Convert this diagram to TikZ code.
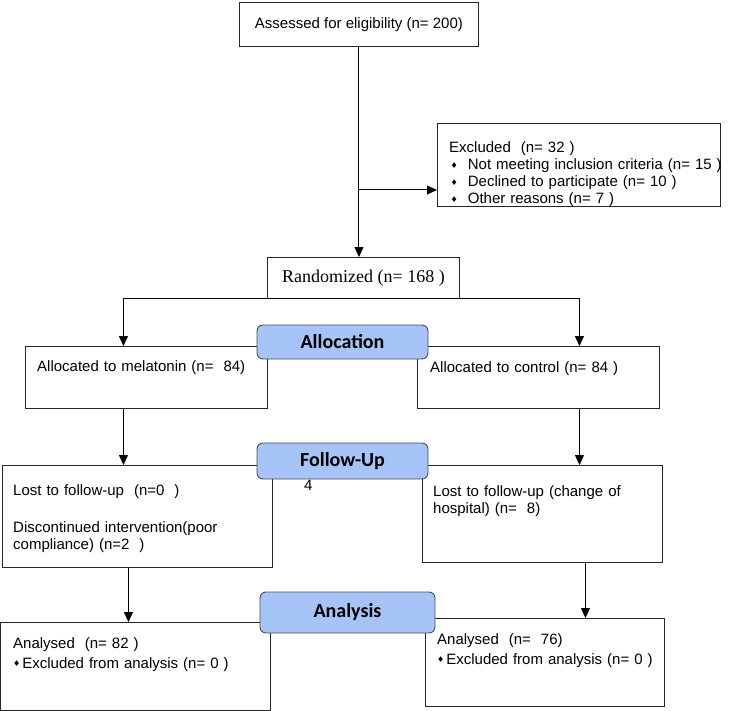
\documentclass[tikz,border=0pt]{standalone}
\usepackage{fontspec}
\setmainfont{Liberation Sans}
\newfontfamily\randfont{Liberation Serif}
\newfontfamily\stagefont{Carlito}
\newfontfamily\symfont{DejaVu Sans}
\usetikzlibrary{arrows.meta}
\definecolor{stageblue}{RGB}{166,196,248}
\newcommand{\dmd}{\raisebox{1.5pt}{\fontsize{8}{8}\selectfont\symfont ♦}}

\begin{document}
\begin{tikzpicture}[x=1pt,y=-1pt,
    box/.style={draw=black!85, line width=0.9pt, inner sep=0pt, anchor=north west,
        font=\fontsize{15}{17}\selectfont},
    stage/.style={draw=black!70, fill=stageblue, rounded corners=6pt, line width=0.9pt,
        minimum width=171pt, minimum height=34pt,
        font=\stagefont\bfseries\fontsize{20}{24}\selectfont},
    txt/.style={anchor=base west, inner sep=0pt, align=left, text width=280pt,
        font=\fontsize{15}{17}\selectfont},
    arr/.style={line width=1pt, -{Triangle[length=10pt,width=9pt]}}]
    \useasboundingbox (0,0) rectangle (730,711);

    % boxes
    \node[box, minimum width=239pt, minimum height=44pt] (assess) at (239,2)
        {Assessed for eligibility (n= 200)};
    \node[box, minimum width=283pt, minimum height=83pt] (excl) at (437,123) {};
    \node[box, minimum width=192pt, minimum height=41pt,
        font=\randfont\fontsize{18}{21}\selectfont] (rand) at (267,257)
        {Randomized (n= 168 )};
    \node[box, minimum width=242pt, minimum height=62pt] (alloc1) at (25,346) {};
    \node[box, minimum width=242pt, minimum height=62pt] (alloc2) at (417,346) {};
    \node[box, minimum width=270pt, minimum height=102pt] (lost1) at (2,465) {};
    \node[box, minimum width=240pt, minimum height=97pt] (lost2) at (422,465) {};
    \node[box, minimum width=270pt, minimum height=88pt] (anal1) at (0,622) {};
    \node[box, minimum width=239pt, minimum height=88pt] (anal2) at (425,618) {};

    % texts
    \node[txt] (exclT) at (449,153) {Excluded\ \ (n= 32 )\\
        \hspace{1.5pt}\dmd\hspace{10pt}Not meeting inclusion criteria (n= 15 )\\
        \hspace{1.5pt}\dmd\hspace{10pt}Declined to participate (n= 10 )\\
        \hspace{1.5pt}\dmd\hspace{10pt}Other reasons (n= 7 )};
    \node[txt] (alloc1T) at (37,371) {Allocated to melatonin (n=\ \ 84)};
    \node[txt] (alloc2T) at (430,372) {Allocated to control (n= 84 )};
    \node[txt] (lost1T) at (13,495) {Lost to follow-up\ \ (n=0\ \ )\\[20pt]
        Discontinued intervention(poor\\ compliance) (n=2\ \ )};
    \node[txt, text width=20pt] (stray) at (304,490) {4};
    \node[txt] (lost2T) at (433,496) {Lost to follow-up (change of\\ hospital) (n=\ \ 8)};
    \node[txt] (anal1T) at (13,648) {Analysed\ \ (n= 82 )\\[3pt]
        \dmd\hspace{2pt}Excluded from analysis (n= 0 )};
    \node[txt] (anal2T) at (437,644) {Analysed\ \ (n=\ \ 76)\\[3pt]
        \dmd\hspace{2pt}Excluded from analysis (n= 0 )};

    % stage labels
    \node[stage] (allocS) at (342.5,342) {Allocation};
    \node[stage, minimum height=36pt] (followS) at (342.5,461) {Follow-Up};
    \node[stage, minimum width=175pt, minimum height=41pt] (analS) at (347.5,612.5) {Analysis};

    % arrows
    \coordinate (split) at (358,190);
    \draw[arr] (assess.south) -- (assess.south |- rand.north);
    \draw[arr] (split) -- (split -| excl.west);
    \coordinate (a1) at ([xshift=-23pt]alloc1.north);
    \coordinate (a2) at ([xshift=41pt]alloc2.north);
    \draw[arr] (rand.south) -| (a1);
    \draw[arr] (rand.south) -| (a2);
    \coordinate (b1) at ([xshift=-23pt]alloc1.south);
    \coordinate (b2) at ([xshift=41pt]alloc2.south);
    \draw[arr] (b1) -- (b1 |- lost1.north);
    \draw[arr] (b2) -- (b2 |- lost2.north);
    \coordinate (c1) at ([xshift=-9pt]lost1.south);
    \coordinate (c2) at ([xshift=43pt]lost2.south);
    \draw[arr] (c1) -- (c1 |- anal1.north);
    \draw[arr] (c2) -- (c2 |- anal2.north);
\end{tikzpicture}
\end{document}
